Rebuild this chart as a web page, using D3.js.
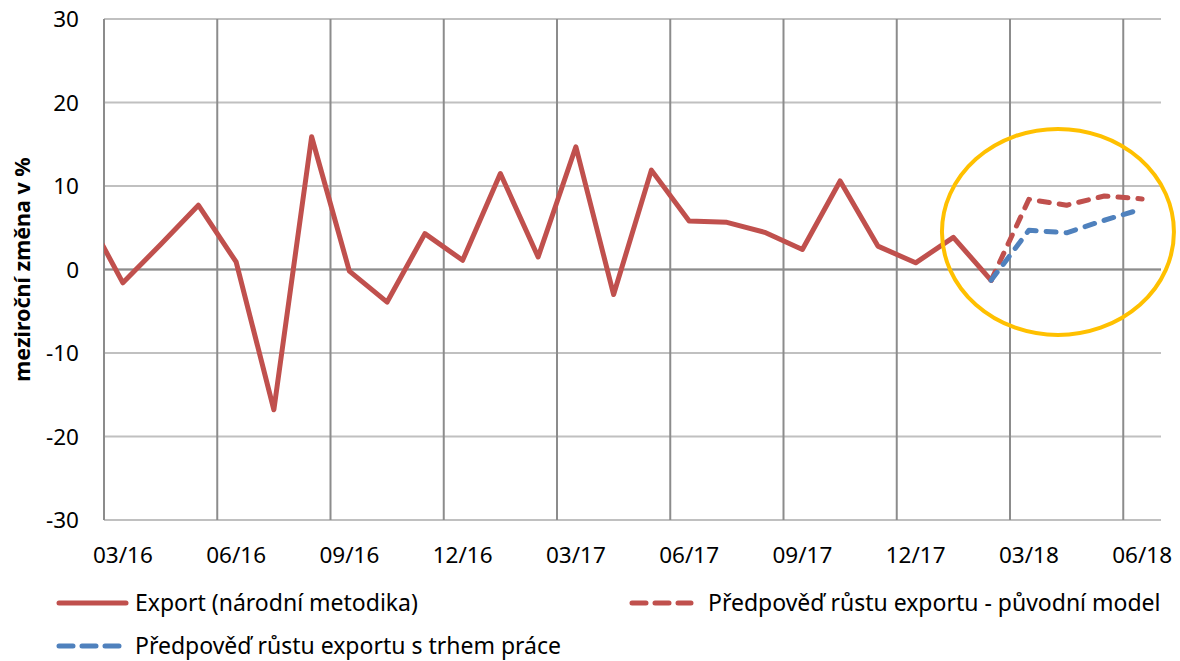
<!DOCTYPE html>
<html><head><meta charset="utf-8">
<script src="https://cdn.jsdelivr.net/npm/d3@7/dist/d3.min.js"></script>
<style>body{margin:0;background:#fff;} text{font-family:"Noto Sans",sans-serif;fill:#000;}</style>
</head><body><svg id="c" width="1180" height="661"></svg>
<script>
// month categories (index 0 = 02/16, partially outside the visible axis)
const months = ["02/16","03/16","04/16","05/16","06/16","07/16","08/16","09/16","10/16","11/16","12/16",
  "01/17","02/17","03/17","04/17","05/17","06/17","07/17","08/17","09/17","10/17","11/17","12/17",
  "01/18","02/18","03/18","04/18","05/18","06/18"];
const exportValues = [6.8,-1.6,3.0,7.7,0.9,-16.8,15.9,-0.2,-3.9,4.3,1.1,
  11.5,1.5,14.7,-3.0,11.9,5.8,5.65,4.45,2.4,10.6,2.8,0.8,
  3.85,-1.3,null,null,null,null];
const forecastOrig = [null,null,null,null,null,null,null,null,null,null,null,
  null,null,null,null,null,null,null,null,null,null,null,null,
  null,-1.3,8.4,7.7,8.8,8.45];
const forecastLabour = [null,null,null,null,null,null,null,null,null,null,null,
  null,null,null,null,null,null,null,null,null,null,null,null,
  null,-1.3,4.7,4.4,5.9,7.25];
const yTicks = [-30,-20,-10,0,10,20,30];
const xLabelMonths = ["03/16","06/16","09/16","12/16","03/17","06/17","09/17","12/17","03/18","06/18"];
const seriesNames = ["Export (národní metodika)","Předpověď růstu exportu - původní model","Předpověď růstu exportu s trhem práce"];
const yTitle = "meziroční změna v %";

const svg = d3.select("#c");
const L = 104, R = 1161, T = 19, B = 520;
const x = d3.scaleLinear().domain([0, 28]).range([L, R]);
const xc = i => x(i - 1 + 0.5); // centre of month index i in `months`
const y = d3.scaleLinear().domain([-30, 30]).range([B, T]);

svg.append("clipPath").attr("id","clip").append("rect").attr("x",L).attr("y",T-5).attr("width",R-L).attr("height",B-T+10);

// horizontal gridlines
svg.append("g").selectAll("line").data(yTicks).join("line")
  .attr("x1",L).attr("x2",R).attr("y1",d=>y(d)).attr("y2",d=>y(d))
  .attr("stroke","#c0c0c0").attr("stroke-width",2);
// vertical gridlines (every 3 months)
const vTicks = d3.range(0, 28, 3);
svg.append("g").selectAll("line").data(vTicks).join("line")
  .attr("x1",d=>x(d)).attr("x2",d=>x(d)).attr("y1",T).attr("y2",B)
  .attr("stroke","#8c8c8c").attr("stroke-width",2);
svg.append("line").attr("x1",L).attr("x2",R).attr("y1",y(0)).attr("y2",y(0)).attr("stroke","#8c8c8c").attr("stroke-width",2);

// y tick labels
svg.append("g").selectAll("text").data(yTicks).join("text")
  .attr("x",79).attr("y",d=>y(d)).attr("dy","0.36em").attr("text-anchor","end")
  .attr("font-size",22.5).text(d=>d);
// x tick labels
svg.append("g").selectAll("text").data(xLabelMonths).join("text")
  .attr("x",d=>xc(months.indexOf(d))).attr("y",555).attr("dy","0.36em").attr("text-anchor","middle")
  .attr("font-size",22.5).text(d=>d);
// y title
svg.append("text").attr("transform","translate(22,"+((T+B)/2)+") rotate(-90)")
  .attr("text-anchor","middle").attr("dy","0.36em").attr("font-size",21.5).attr("font-weight","bold").text(yTitle);

const line = d3.line().defined(d=>d[1]!=null).x(d=>xc(d[0])).y(d=>y(d[1]));
const g = svg.append("g").attr("clip-path","url(#clip)");
g.append("path").attr("d",line(exportValues.map((v,i)=>[i,v])))
  .attr("fill","none").attr("stroke","#C0504D").attr("stroke-width",5).attr("stroke-linejoin","round").attr("stroke-linecap","round");
g.append("path").attr("d",line(forecastOrig.map((v,i)=>[i,v])))
  .attr("fill","none").attr("stroke","#C0504D").attr("stroke-width",5).attr("stroke-dasharray","10,10").attr("stroke-linecap","round").attr("stroke-linejoin","round");
g.append("path").attr("d",line(forecastLabour.map((v,i)=>[i,v])))
  .attr("fill","none").attr("stroke","#4F81BD").attr("stroke-width",5).attr("stroke-dasharray","10,10").attr("stroke-linecap","round").attr("stroke-linejoin","round");

// highlight ellipse
const ellCentreMonth = 25.27, ellCentreVal = 4.5;
svg.append("ellipse").attr("cx",x(ellCentreMonth)).attr("cy",y(ellCentreVal)).attr("rx",116).attr("ry",103)
  .attr("fill","none").attr("stroke","#FFC000").attr("stroke-width",4);

// legend
const legend = [
  {name:seriesNames[0], color:"#C0504D", dash:null, x1:59, x2:126, y:603, tx:135},
  {name:seriesNames[1], color:"#C0504D", dash:"14,9", x1:632, x2:691, y:603, tx:708},
  {name:seriesNames[2], color:"#4F81BD", dash:"14,9", x1:59, x2:119, y:646, tx:135}
];
const lg = svg.append("g").selectAll("g").data(legend).join("g");
lg.append("line").attr("x1",d=>d.x1).attr("x2",d=>d.x2).attr("y1",d=>d.y).attr("y2",d=>d.y)
  .attr("stroke",d=>d.color).attr("stroke-width",5).attr("stroke-linecap","round").attr("stroke-dasharray",d=>d.dash);
lg.append("text").attr("x",d=>d.tx).attr("y",d=>d.y).attr("dy","0.33em").attr("font-size",23).text(d=>d.name);
</script></body></html>
